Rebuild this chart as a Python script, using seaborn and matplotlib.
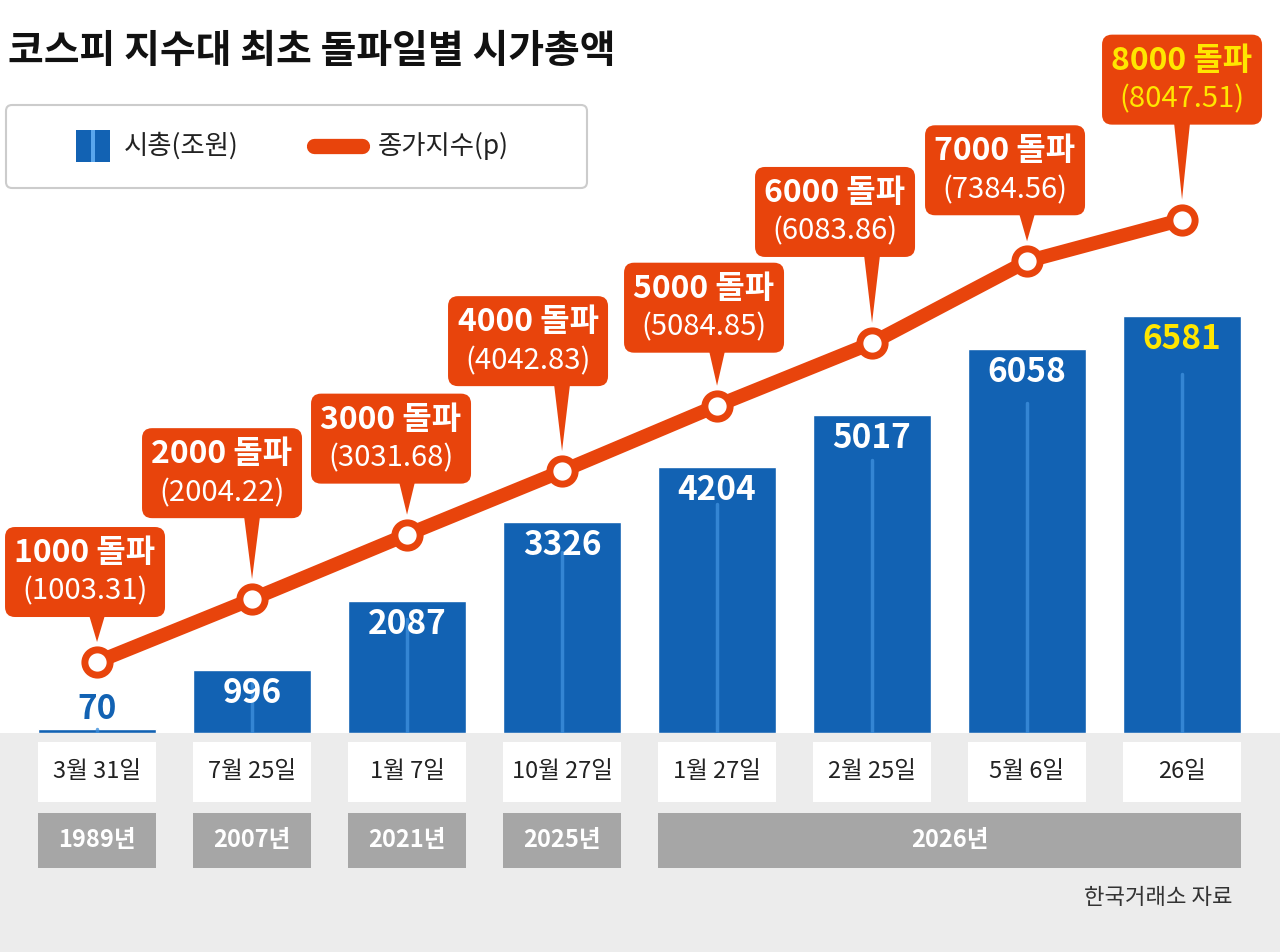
import matplotlib
matplotlib.use("Agg")
import matplotlib.pyplot as plt
import seaborn as sns
import pandas as pd
from matplotlib.patches import FancyBboxPatch, Polygon, Rectangle
from matplotlib.lines import Line2D

dates = ["3월 31일", "7월 25일", "1월 7일", "10월 27일", "1월 27일", "2월 25일", "5월 6일", "26일"]
years = ["1989년", "2007년", "2021년", "2025년", "2026년", "2026년", "2026년", "2026년"]
market_cap = [70, 996, 2087, 3326, 4204, 5017, 6058, 6581]
index_close = [1003.31, 2004.22, 3031.68, 4042.83, 5084.85, 6083.86, 7384.56, 8047.51]
levels = ["1000", "2000", "3000", "4000", "5000", "6000", "7000", "8000"]

sns.set_theme(style="white")
plt.rcParams['font.family'] = ['Noto Sans CJK KR', 'DejaVu Sans']

W, H = 1280, 952
fig = plt.figure(figsize=(12.8, 9.52), dpi=100)
fig.patch.set_facecolor("white")
ORANGE = "#e8440c"
BLUE = "#1262b3"

fig.patches.append(Rectangle((0, 0), 1, (H - 733) / H, transform=fig.transFigure,
                             facecolor="#ececec", edgecolor="none", zorder=0))

ax = fig.add_axes([0, (H - 733) / H, 1, 733 / H])
ax.set_facecolor("none")
df = pd.DataFrame({"date": dates, "cap": market_cap})
sns.barplot(data=df, x="date", y="cap", color=BLUE, saturation=1, width=0.76, ax=ax, zorder=2)
ax.set_xlim(-0.626, 7.632)
ax.set_ylim(0, 11568)
for i, v in enumerate(market_cap):
    ax.plot([i, i], [0, v * 0.86], color="#3d8fdc", lw=2.5, alpha=0.8, zorder=3)
    if i == 0:
        ax.text(i, v + 40, f"{v}", ha="center", va="bottom", color="#1262b3",
                fontsize=24, fontweight="bold", zorder=4)
    else:
        ax.text(i, v - 110, f"{v}", ha="center", va="top",
                color="#ffe600" if i == 7 else "white", fontsize=24, fontweight="bold", zorder=4)
ax.axis("off")

ax2 = ax.twinx()
ax2.set_ylim(-127, 11545)
ax2.axis("off")
sns.lineplot(x=list(range(8)), y=index_close, color=ORANGE, lw=10, ax=ax2, zorder=5)
ax2.scatter(range(8), index_close, s=330, facecolor="white", edgecolor=ORANGE, linewidth=5, zorder=6)

# callout layout (pixels): box-center shift and gap from point to box bottom
box_dx = [-12, -30, -16, -34, -13, -37, -22, 0]
box_gap = [45, 81, 51, 85, 53, 86, 46, 95]

fig.canvas.draw()
for i, (lv, v) in enumerate(zip(levels, index_close)):
    px, py = ax2.transData.transform((i, v))
    bottom = py + box_gap[i]
    bw, bh = 160, 90
    cx = px + box_dx[i]
    fig.patches.append(FancyBboxPatch((cx - bw / 2, bottom), bw, bh, boxstyle="round,pad=0,rounding_size=10",
                                      transform=None, facecolor=ORANGE, edgecolor="none", zorder=7))
    fig.patches.append(Polygon([(px - 8, bottom + 2), (px + 8, bottom + 2), (px, py + 20)], closed=True,
                               transform=None, facecolor=ORANGE, edgecolor="none", zorder=7))
    tc = "#ffe600" if i == 7 else "white"
    fig.text(cx / W, (bottom + bh * 0.71) / H, f"{lv} 돌파", ha="center", va="center",
             color=tc, fontsize=23, fontweight="bold", zorder=8)
    fig.text(cx / W, (bottom + bh * 0.28) / H, f"({v:.2f})", ha="center", va="center",
             color=tc, fontsize=21, fontweight="medium", zorder=8)

for i, d in enumerate(dates):
    px, _ = ax.transData.transform((i, 0))
    fig.patches.append(Rectangle((px - 59, H - 802), 118, 60, transform=None,
                                 facecolor="white", edgecolor="none", zorder=2))
    fig.text(px / W, (H - 772) / H, d, ha="center", va="center", fontsize=17, color="#222222")
spans = [(0, 0, "1989년"), (1, 1, "2007년"), (2, 2, "2021년"), (3, 3, "2025년"), (4, 7, "2026년")]
for a, b, lab in spans:
    pa, _ = ax.transData.transform((a, 0))
    pb, _ = ax.transData.transform((b, 0))
    x0, x1 = pa - 59, pb + 59
    fig.patches.append(Rectangle((x0, H - 868), x1 - x0, 55, transform=None,
                                 facecolor="#a6a6a6", edgecolor="none", zorder=2))
    fig.text((x0 + x1) / 2 / W, (H - 840) / H, lab, ha="center", va="center",
             fontsize=17, color="white", fontweight="bold")

fig.text(1232 / W, (H - 897) / H, "한국거래소 자료", ha="right", va="center", fontsize=16, color="#333333")

fig.text(8 / W, (H - 52) / H, "코스피 지수대 최초 돌파일별 시가총액", ha="left", va="center",
         fontsize=28, fontweight="bold", color="#111111")

fig.patches.append(FancyBboxPatch((6, H - 188), 581, 83, boxstyle="round,pad=0,rounding_size=6",
                                  transform=None, facecolor="white", edgecolor="#cccccc", lw=1.5, zorder=1))
fig.patches.append(Rectangle((76, H - 162), 34, 32, transform=None, facecolor=BLUE, edgecolor="none", zorder=2))
fig.patches.append(Rectangle((91, H - 162), 4, 32, transform=None, facecolor="#5aa6ec", edgecolor="none", zorder=3))
fig.text(124 / W, (H - 146) / H, "시총(조원)", ha="left", va="center", fontsize=19,
         fontweight="medium", color="#222222")
fig.lines.append(Line2D([314 / W, 362 / W], [(H - 146) / H] * 2, transform=fig.transFigure,
                        color=ORANGE, lw=11, solid_capstyle="round"))
fig.text(378 / W, (H - 146) / H, "종가지수(p)", ha="left", va="center", fontsize=19,
         fontweight="medium", color="#222222")

fig.savefig("out.png", dpi=100)
